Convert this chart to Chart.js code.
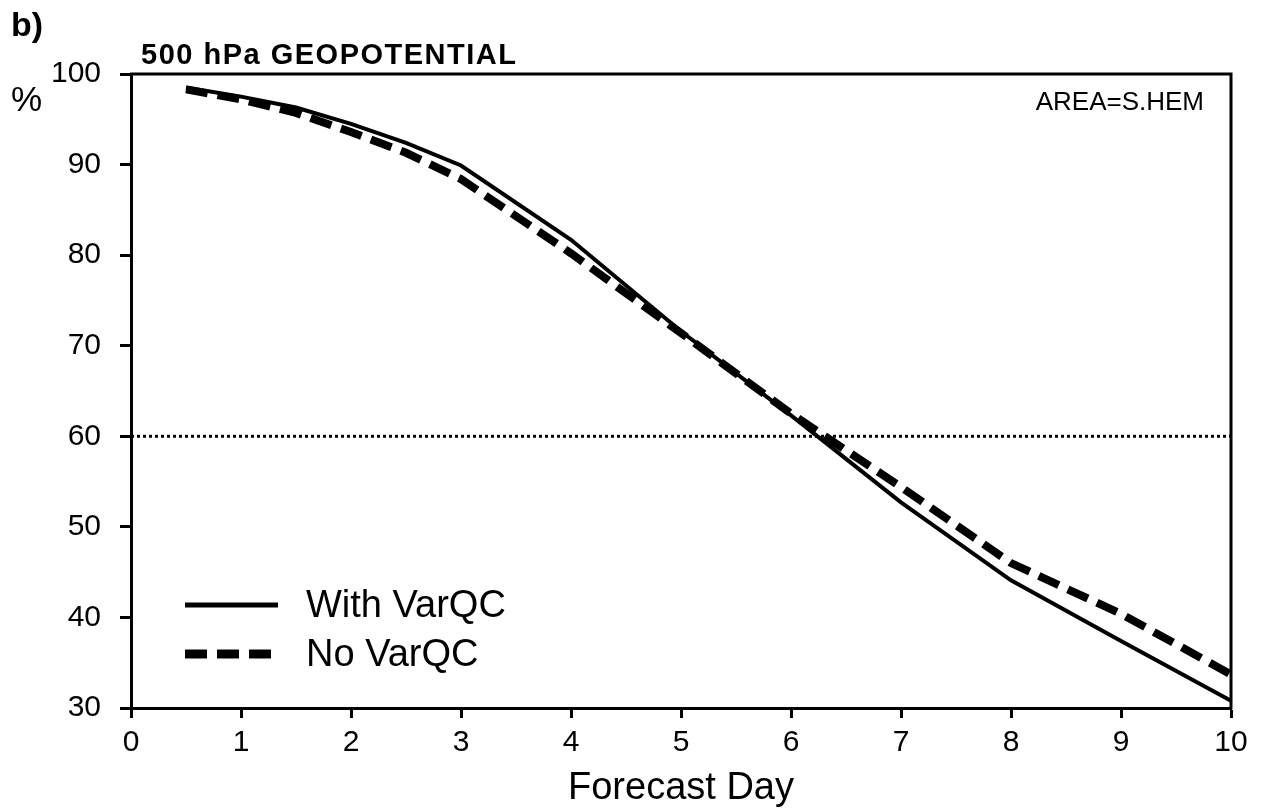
<!DOCTYPE html>
<html>
<head>
<meta charset="utf-8">
<title>500 hPa GEOPOTENTIAL</title>
<script src="https://cdn.jsdelivr.net/npm/chart.js@4.4.1/dist/chart.umd.min.js"></script>
<style>
  html, body { margin: 0; padding: 0; background: #fff; }
  canvas { display: block; }
</style>
</head>
<body>
<canvas id="acChart" width="1263" height="811"></canvas>
<script>
// forecast days and anomaly correlation (%) per experiment
const days = [0.5, 1, 1.5, 2, 2.5, 3, 4, 5, 6, 7, 8, 9, 10];
const withVarQC = [98.5, 97.5, 96.3, 94.5, 92.4, 89.9, 81.7, 71.6, 62.3, 52.7, 44.1, 37.4, 30.8];
const noVarQC = [98.3, 97.2, 95.7, 93.6, 91.3, 88.4, 80.2, 71.4, 62.5, 54.4, 46.0, 40.4, 33.7];
const refLevel = 60;
const xRange = [0, 10];
const yRange = [30, 100];

const FONT = '"Liberation Sans", Arial, Helvetica, sans-serif';

const toPoints = (xs, ys) => xs.map((x, i) => ({ x: x, y: ys[i] }));

// frame, labels and the in-plot legend
const decorations = {
    id: 'decorations',
    afterDraw(chart) {
        const ctx = chart.ctx;
        const { left, right, top, bottom } = chart.chartArea;
        ctx.save();

        // top and right edges of the box
        ctx.strokeStyle = '#000';
        ctx.lineWidth = 3;
        ctx.beginPath();
        ctx.moveTo(left - 1, top);
        ctx.lineTo(right, top);
        ctx.lineTo(right, bottom + 1);
        ctx.stroke();

        ctx.fillStyle = '#000';
        ctx.textAlign = 'left';
        ctx.textBaseline = 'alphabetic';

        ctx.font = `bold 34px ${FONT}`;
        ctx.fillText('b)', 11, 36);

        ctx.font = `bold 29px ${FONT}`;
        ctx.letterSpacing = '1.5px';
        ctx.fillText('500 hPa GEOPOTENTIAL', 141, 64);
        ctx.letterSpacing = '0px';

        ctx.font = `35px ${FONT}`;
        ctx.fillText('%', 11, 111);

        ctx.font = `26px ${FONT}`;
        ctx.textAlign = 'right';
        ctx.fillText('AREA=S.HEM', 1204, 110);

        // legend, styled from the datasets themselves
        const entries = [
            { ds: chart.data.datasets[0], y: 605 },
            { ds: chart.data.datasets[1], y: 654 }
        ];
        ctx.textAlign = 'left';
        ctx.textBaseline = 'middle';
        ctx.font = `38px ${FONT}`;
        entries.forEach(e => {
            ctx.strokeStyle = e.ds.borderColor;
            ctx.lineWidth = e.ds.legendWidth;
            ctx.setLineDash(e.ds.borderDash || []);
            ctx.lineCap = 'butt';
            ctx.beginPath();
            ctx.moveTo(185, e.y);
            ctx.lineTo(e.ds.borderDash ? 273 : 278, e.y);
            ctx.stroke();
            ctx.setLineDash([]);
            ctx.fillText(e.ds.label, 306, e.y + 2);
        });

        ctx.restore();
    }
};

new Chart(document.getElementById('acChart'), {
    type: 'line',
    data: {
        datasets: [
            {
                label: 'With VarQC',
                data: toPoints(days, withVarQC),
                borderColor: '#000',
                borderWidth: 4,
                legendWidth: 5,
                pointRadius: 0,
                tension: 0
            },
            {
                label: 'No VarQC',
                data: toPoints(days, noVarQC),
                borderColor: '#000',
                borderWidth: 8,
                legendWidth: 9,
                borderDash: [22, 10],
                pointRadius: 0,
                tension: 0
            },
            {
                label: 'ref',
                data: toPoints(xRange, [refLevel, refLevel]),
                borderColor: '#000',
                borderWidth: 3,
                borderDash: [3, 3],
                pointRadius: 0
            }
        ]
    },
    options: {
        responsive: false,
        animation: false,
        events: [],
        layout: { padding: { top: 74, right: 32, left: 0, bottom: 0 } },
        plugins: {
            legend: { display: false },
            tooltip: { enabled: false },
            title: { display: false }
        },
        scales: {
            x: {
                type: 'linear',
                min: xRange[0],
                max: xRange[1],
                afterFit: s => { s.height = 103; },
                border: { display: true, color: '#000', width: 3 },
                grid: { drawOnChartArea: false, drawTicks: true, tickLength: 10, tickWidth: 3, tickColor: '#000' },
                ticks: { stepSize: 1, color: '#000', padding: 7, font: { family: FONT, size: 30 } },
                title: {
                    display: true,
                    text: 'Forecast Day',
                    color: '#000',
                    font: { family: FONT, size: 38 },
                    padding: { top: 0, bottom: 0 }
                }
            },
            y: {
                min: yRange[0],
                max: yRange[1],
                afterFit: s => { s.width = 131; },
                border: { display: true, color: '#000', width: 3 },
                grid: { drawOnChartArea: false, drawTicks: true, tickLength: 11, tickWidth: 3, tickColor: '#000' },
                ticks: { stepSize: 10, color: '#000', padding: 19, font: { family: FONT, size: 30 } }
            }
        }
    },
    plugins: [decorations]
});
</script>
</body>
</html>
